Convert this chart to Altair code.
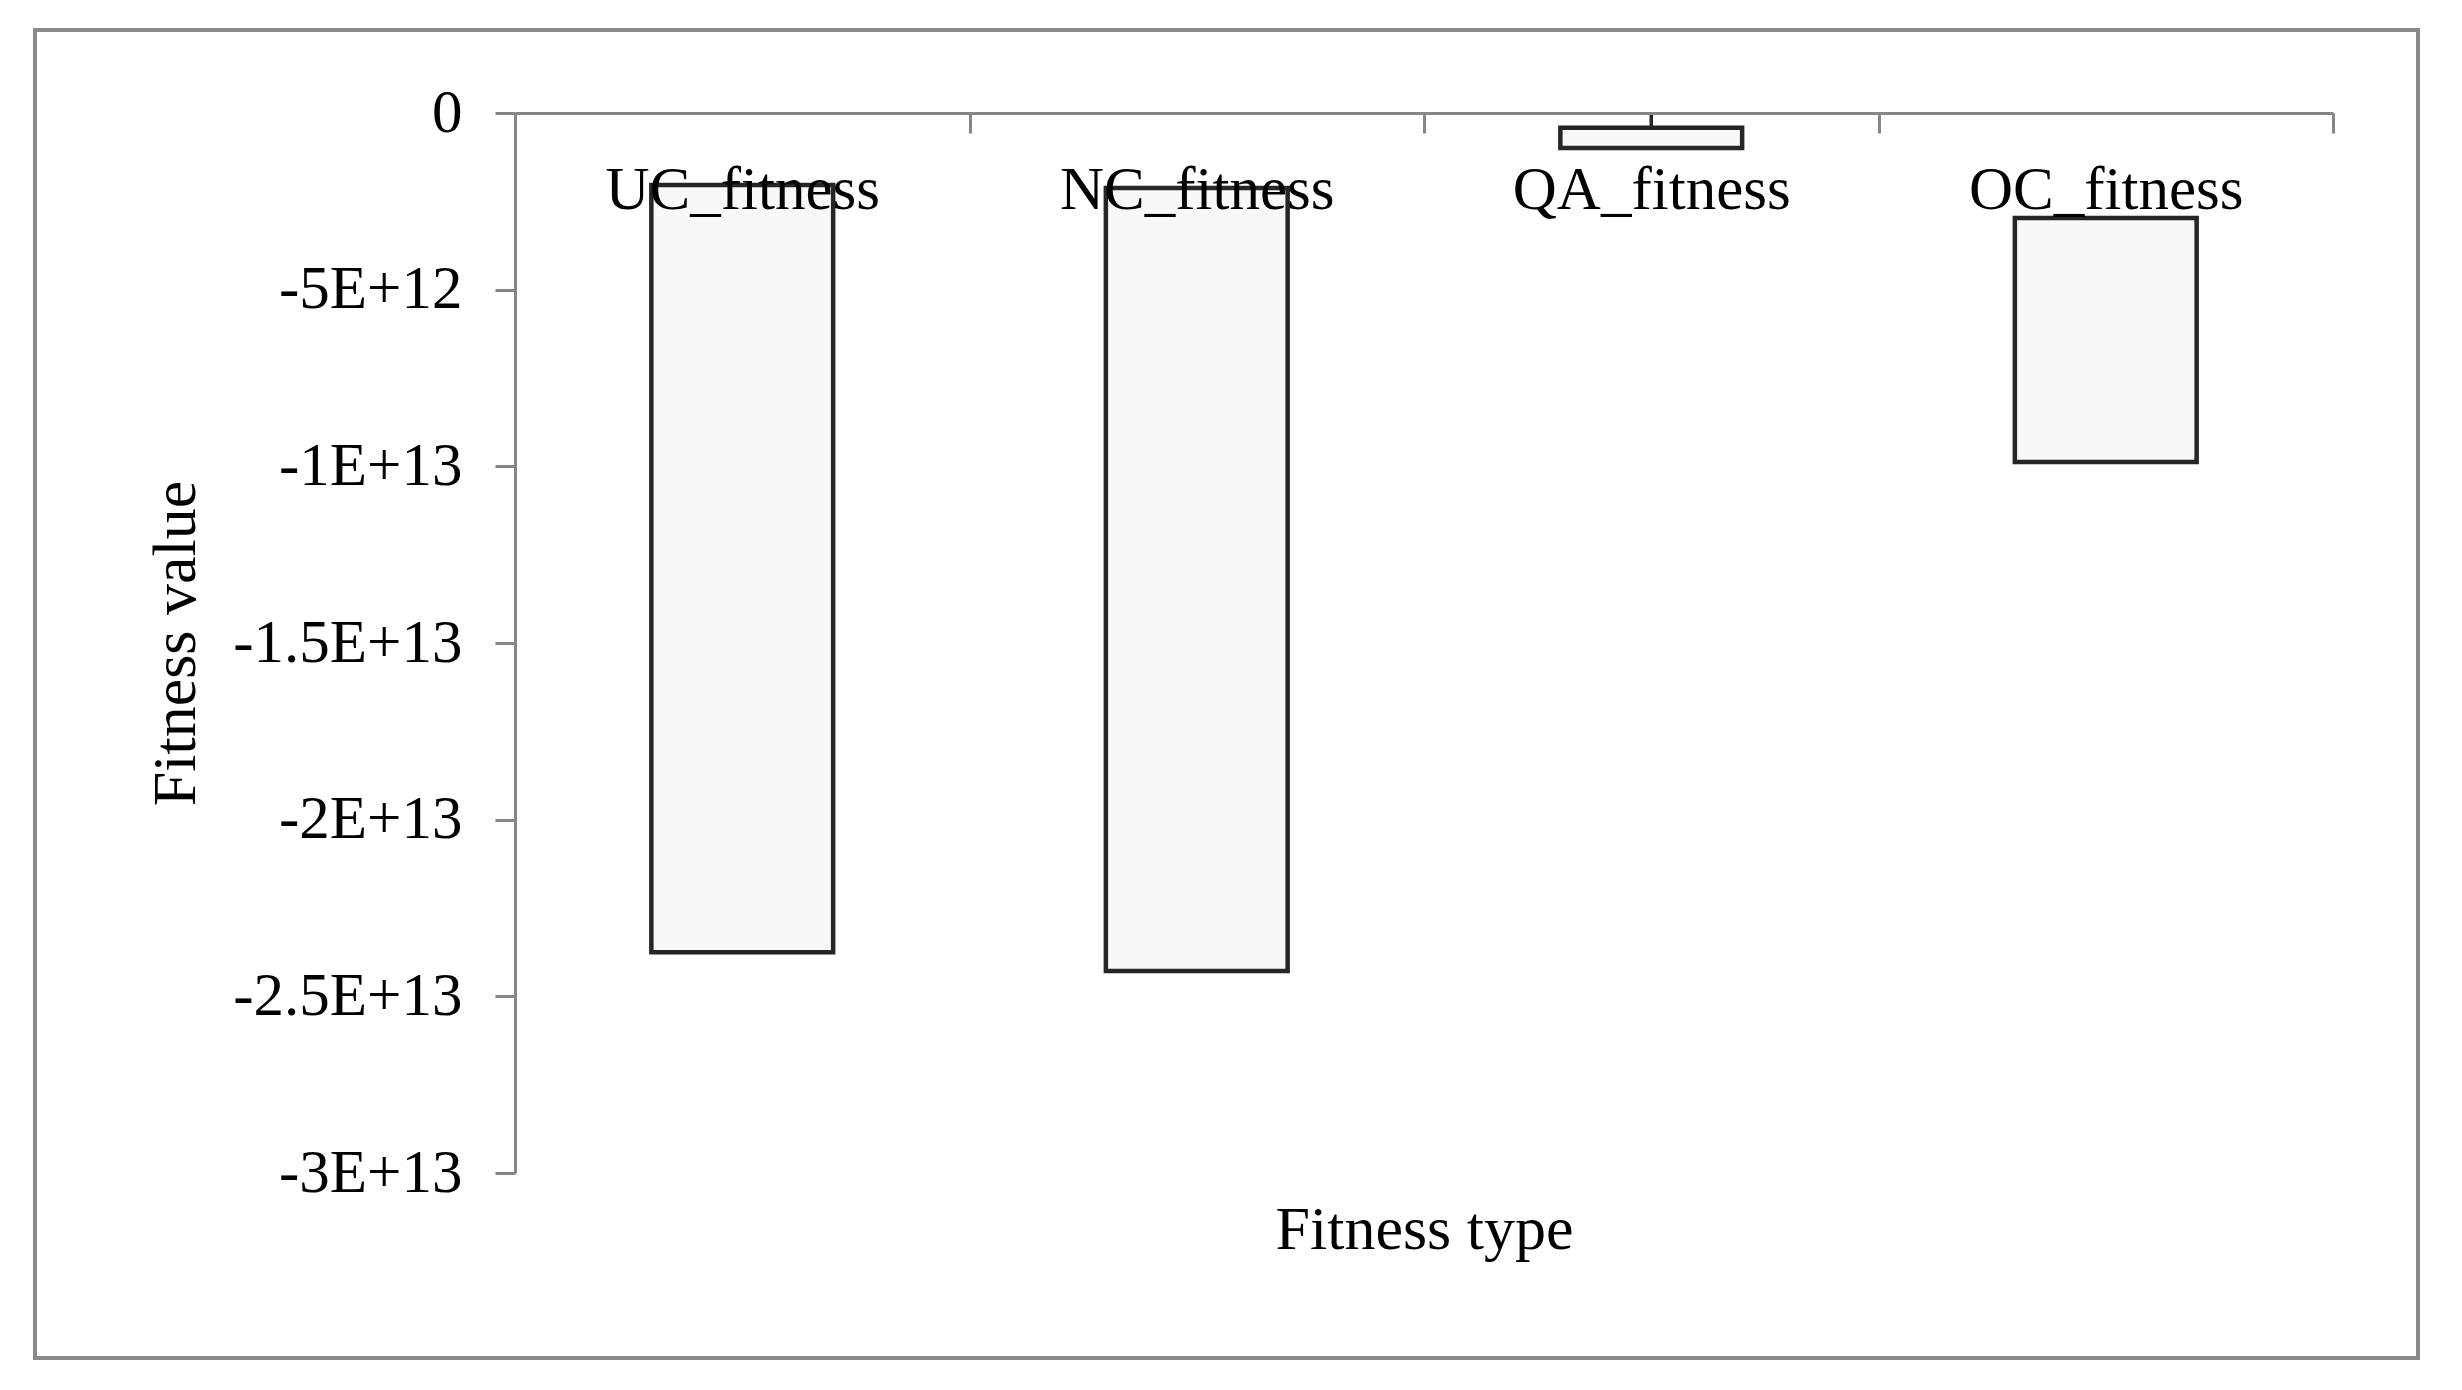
import altair as alt
import pandas as pd

categories = ["UC_fitness", "NC_fitness", "QA_fitness", "OC_fitness"]
bar_top = [-2.04e12, -2.12e12, -0.42e12, -2.97e12]
bar_bottom = [-2.375e13, -2.428e13, -0.99e12, -0.988e13]

whisker_cats = ["QA_fitness"]
whisker_from = [0.0]
whisker_to = [-0.42e12]

y_tick_values = [0, -5000000000000, -10000000000000, -15000000000000,
                 -20000000000000, -25000000000000, -30000000000000]
y_tick_labels = ["0", "-5E+12", "-1E+13", "-1.5E+13", "-2E+13", "-2.5E+13", "-3E+13"]

bars_df = pd.DataFrame({"cat": categories, "top": bar_top, "bottom": bar_bottom})
whisk_df = pd.DataFrame({"cat": whisker_cats, "y1": whisker_from, "y2": whisker_to})

label_expr = " : ".join(f"datum.value == {v} ? '{l}'" for v, l in zip(y_tick_values, y_tick_labels)) + " : ''"

FONT = "Liberation Serif"
W, H = 1818, 1060
AXIS_GRAY = "#868686"

x_scale = alt.Scale(domain=categories, paddingInner=0, paddingOuter=0)
y_scale = alt.Scale(domain=[-3e13, 0], nice=False, zero=False)

x_axis = alt.Axis(
    orient="bottom", offset=-H, title="Fitness type",
    titleFont=FONT, titleFontSize=62, titleFontWeight="normal", titleColor="black",
    titleX=W / 2, titleY=1135, titleBaseline="alphabetic", titleAlign="center",
    labelFont=FONT, labelFontSize=61, labelColor="black", labelAngle=0, labelLimit=0,
    labelBaseline="alphabetic", labelPadding=75, labelAlign="center",
    tickBand="extent", tickSize=20, tickColor=AXIS_GRAY, tickWidth=3,
    domainColor=AXIS_GRAY, domainWidth=3, grid=False, zindex=1,
)
y_axis = alt.Axis(
    orient="left", title="Fitness value", values=y_tick_values, labelExpr=label_expr,
    titleFont=FONT, titleFontSize=62, titleFontWeight="normal", titleColor="black",
    titleX=-340, titleY=H / 2, titleAngle=-90, titleAlign="center", titleBaseline="middle",
    labelFont=FONT, labelFontSize=61, labelColor="black", labelPadding=33, labelLimit=0,
    tickSize=20, tickColor=AXIS_GRAY, tickWidth=3,
    domainColor=AXIS_GRAY, domainWidth=3, grid=False,
)

frame = alt.Chart(pd.DataFrame({"k": [0]})).mark_rect(
    fill=None, stroke="#8a8a8a", strokeWidth=4
).encode(
    x=alt.value(-480), x2=alt.value(1903), y=alt.value(-83), y2=alt.value(1245)
)

bars = alt.Chart(bars_df).mark_bar(
    width=alt.RelativeBandSize(0.4), fill="#f8f8f8", stroke="#262626", strokeWidth=4.5
).encode(
    x=alt.X("cat:N", sort=categories, scale=x_scale, axis=x_axis),
    y=alt.Y("top:Q", scale=y_scale, axis=y_axis),
    y2="bottom:Q",
)

whisk = alt.Chart(whisk_df).mark_rule(color="#262626", strokeWidth=3.5).encode(
    x=alt.X("cat:N", sort=categories, scale=x_scale),
    y=alt.Y("y1:Q", scale=y_scale),
    y2="y2:Q",
)

chart = alt.layer(frame, bars, whisk).properties(
    width=W, height=H, background="white",
    autosize=alt.AutoSizeParams(type="none"),
    padding={"left": 507, "top": 105, "right": 110, "bottom": 200},
).configure_view(stroke=None)

chart.save("out.html", embed_options={"renderer": "svg", "actions": False})
